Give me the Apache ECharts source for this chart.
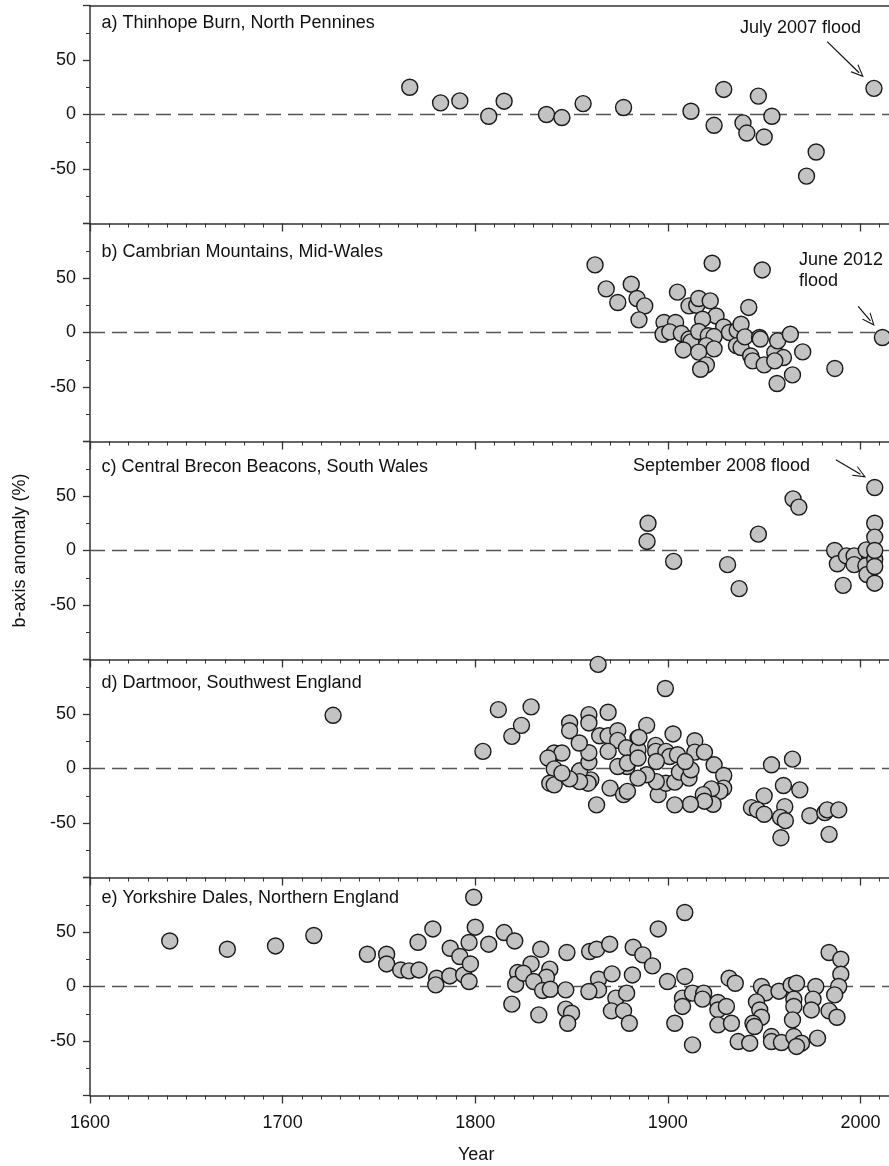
<!DOCTYPE html>
<html>
<head>
<meta charset="utf-8">
<title>b-axis anomaly</title>
<script src="https://cdn.jsdelivr.net/npm/echarts@6/dist/echarts.min.js"></script>
<style>
html, body { margin: 0; padding: 0; background: #fff; }
#chart { width: 889px; height: 1166px; }
</style>
</head>
<body>
<div id="chart"></div>
<script>
// [year, b-axis anomaly %]
var thinhope = [
	[1766,25],[1782,10.7],[1792,12.5],[1807,-1.6],[1815,12.2],[1837,0],[1845,-2.8],[1856,10],
	[1877,6.4],[1912,3],[1924,-9.9],[1929,23],[1939,-7.7],[1941,-17],[1947,16.9],[1950,-20.6],
	[1954,-1.6],[1972,-56.5],[1977,-34.4],[2007,24]
];
var cambrian = [
	[1862.2,62],[1868,40],[1874,27.5],[1881,44.3],[1884,31.2],[1888,24.4],[1885,11.6],[1905,37],
	[1923,63.6],[1949,57.4],[1942,23],[1911,24.4],[1915,25],[1916,31.2],[1922,29],[1925,15.2],
	[1918,12.2],[1929,5.1],[1898,9.2],[1904,9.2],[1897.5,-1.6],[1901,0.6],[1907,-0.9],[1911,-6],
	[1912,-8.6],[1908,-16],[1916,0.9],[1921,-3],[1924,-3.7],[1920,-12],[1924,-15],[1916,-18],
	[1920,-29.7],[1917,-33.7],[1932,0],[1936,2],[1938,7.6],[1935.6,-12],[1938,-13.8],[1940,-4],
	[1943,-21.5],[1944,-26],[1947.6,-4.6],[1948,-6],[1950,-29.7],[1955.5,-18.3],[1957,-7.7],
	[1960,-23],[1955.5,-26],[1963.6,-1.6],[1964.7,-38.9],[1970,-17.8],[1956.7,-46.8],[1986.7,-33],
	[2011.4,-4.6]
];
var brecon = [
	[1889.7,25],[1889.2,8.3],[1903,-10],[1931,-13],[1937,-35],[1947,15],[1965,47.4],[1968,39.8],
	[1986.6,0],[1988,-12.2],[1992.7,-4.9],[1996.7,-4.9],[1996.7,-13],[1991,-32],[2003,0.6],
	[2002.8,-14],[2003.4,-22],[2007.4,-8],[2007.4,57.8],[2007.4,25],[2007.4,12.3],[2007.4,0],
	[2007.4,-14.7],[2007.4,-30]
];
var dartmoor = [
	[1726.2,48.8],[1804,15.7],[1812,54],[1819,29.5],[1824,39.6],[1829,56.5],[1863.8,95.5],
	[1898.7,73.4],[1849,41.8],[1849,34.7],[1859,49.4],[1859,41.8],[1869,51.6],[1864.6,30],
	[1869,30],[1874,34.7],[1874,25.8],[1889,39.6],[1902.7,31.7],[1884.5,28],[1878.5,19],
	[1884.5,17.2],[1893.7,21.2],[1893.7,15.7],[1899,15.7],[1901,11],[1905,12.6],[1914,25.5],
	[1914,15],[1919,15],[1924,3.4],[1929,-6.4],[1929,-18],[1927,-21],[1922.6,-18.7],[1918.4,-24],
	[1923.5,-32.8],[1919,-30],[1911.7,-32.8],[1903.6,-33.4],[1895,-24],[1899,-13.5],[1903.6,-12.5],
	[1894,-12],[1906,-3.3],[1911,-8.8],[1912,-1.2],[1909,6.4],[1894,6.4],[1889,-5.8],[1884.5,-8.8],
	[1878.8,1.8],[1874,1.8],[1879,5],[1884.5,9.6],[1870,-18],[1877,-24],[1879,-21],[1863,-33.4],
	[1860,-10.4],[1858.6,-13.5],[1854.2,-2.1],[1854.2,-12],[1849,-9.5],[1859,5.9],[1859,14.5],
	[1854,23.4],[1841,14.2],[1845,14.2],[1837.8,9.6],[1841,-0.3],[1838.7,-13.5],[1841,-15],
	[1845,-4.2],[1869,15.7],[1885,28.5],[1953.8,3.4],[1964.7,8.6],[1960,-15.6],[1968.5,-19.6],
	[1950,-25.1],[1943.4,-35.9],[1946.5,-38],[1950,-42],[1960.7,-35],[1958.5,-44.8],[1961,-47.9],
	[1958.7,-63.5],[1973.7,-43.3],[1981.5,-40.5],[1982.7,-38],[1988.7,-38],[1983.7,-60.4]
];
var yorkshire = [
	[1641.4,41.8],[1671.3,34.2],[1696.3,37.2],[1716.2,46.8],[1744,29.6],[1754,29.6],[1754,20.7],
	[1761.3,15.2],[1765.6,14.3],[1770.8,15.2],[1770.3,40.6],[1778,52.8],[1780,7.6],[1779.5,1.5],
	[1787,35.1],[1786.8,9.7],[1792,27.5],[1794,10.6],[1796.8,40.4],[1797.5,20.7],[1796.8,4.6],
	[1799.2,81.9],[1800,54.4],[1807,38.8],[1815,49.5],[1820.5,41.8],[1822,12.8],[1821,2.1],
	[1819,-16.2],[1829,20.7],[1834,34.2],[1825,12.2],[1838.7,15.9],[1837,8.5],[1830.4,4.6],
	[1835,-3.7],[1839,-2.5],[1833,-26],[1847.6,31.2],[1847,-3.1],[1847,-20.8],[1850,-24.5],
	[1848,-33.7],[1859.4,32.1],[1863,34.2],[1869.8,38.8],[1864,6.7],[1864,-3.1],[1859,-4.6],
	[1871,11.6],[1873,-10.7],[1870.7,-22.4],[1877,-22.4],[1880,-33.7],[1878.6,-6.1],[1881.6,10.6],
	[1882,36],[1887,29],[1892,18.9],[1895,52.8],[1899.8,4.6],[1908.8,67.9],[1908.8,9.2],
	[1903.6,-33.7],[1907.6,-10.7],[1907.6,-18.3],[1912.8,-6.1],[1918.6,-6.1],[1918,-11.6],
	[1912.8,-53.6],[1926,-14.7],[1926,-21.5],[1930.4,-18.3],[1926,-35.2],[1933,-33.7],[1931.8,7.6],
	[1935,3],[1936.5,-50.5],[1942.5,-52],[1948.6,0],[1950.8,-5.8],[1946,-14.1],[1947.7,-21.5],
	[1948.6,-28.2],[1944.2,-33.7],[1945,-36.7],[1953.8,-45.9],[1953.8,-50.5],[1959,-51.4],
	[1957.7,-4.3],[1964,1.2],[1966.8,3],[1965.4,-11.6],[1965.4,-18.3],[1964.7,-30.6],[1965.4,-45.9],
	[1969.4,-52],[1966.8,-55],[1977.7,-47.4],[1976.8,0],[1975.4,-11.6],[1974.5,-21.5],[1983.7,31.2],
	[1989.8,25],[1989.8,11.3],[1988.7,0],[1986.6,-7.7],[1983.7,-22.4],[1987.8,-28.2]
];

var panelTitles = [
	'a) Thinhope Burn, North Pennines',
	'b) Cambrian Mountains, Mid-Wales',
	'c) Central Brecon Beacons, South Wales',
	'd) Dartmoor, Southwest England',
	'e) Yorkshire Dales, Northern England'
];
var panelData = [thinhope, cambrian, brecon, dartmoor, yorkshire];
var yTicks = [-100, -50, 0, 50, 100];
var zeroLine = [[1600, 0], [2020, 0]];
// flood arrows: [from, to] in [year, value]
var floodArrows = [
	[[1982.7, 66.9], [1999.3, 38.3]],
	[[1998.8, 23.9], [2005.2, 10.6]],
	[[1987.2, 83.2], [2000, 70]]
];

var FONT = '"Liberation Sans", Arial, sans-serif';
var AXIS_COLOR = '#333';
var panelTop = [5.5, 223.5, 441.5, 659.5, 877.5];
var panelHeight = 218;
var titleY = [24, 252.7, 468, 684.3, 899];

var chart = echarts.init(document.getElementById('chart'));

var grids = [], xAxes = [], yAxes = [], series = [], graphics = [];

for (var i = 0; i < panelData.length; i++) {
	// the axis runs on to 2020, past the right edge of the picture
	grids.push({left: 90, top: panelTop[i], width: 809, height: panelHeight, outerBoundsMode: 'none', containLabel: false});

	xAxes.push({
		type: 'value', gridIndex: i, min: 1600, max: 2020, interval: 100,
		axisLine: {onZero: false, lineStyle: {color: AXIS_COLOR, width: 1.5}},
		axisTick: {length: 8, lineStyle: {color: AXIS_COLOR, width: 1.3}},
		minorTick: {show: true, splitNumber: 10, length: 4, lineStyle: {color: AXIS_COLOR, width: 1}},
		splitLine: {show: false},
		axisLabel: {
			show: i === panelData.length - 1, fontSize: 18, margin: 19, color: '#111', fontFamily: FONT,
			formatter: function (v) { return v % 100 === 0 && v <= 2000 ? String(v) : ''; }
		}
	});

	yAxes.push({
		type: 'value', gridIndex: i, min: yTicks[0], max: yTicks[yTicks.length - 1], interval: 50,
		axisLine: {onZero: false, lineStyle: {color: AXIS_COLOR, width: 1.5}},
		axisTick: {length: 7, lineStyle: {color: AXIS_COLOR, width: 1.3}},
		minorTick: {show: true, splitNumber: 2, length: 4, lineStyle: {color: AXIS_COLOR, width: 1}},
		splitLine: {show: false},
		axisLabel: {
			fontSize: 18, margin: 14, color: '#111', fontFamily: FONT,
			formatter: function (v) { return (v === 100 || v === -100) ? '' : String(v); }
		}
	});

	var zero = {
		type: 'line', xAxisIndex: i, yAxisIndex: i, data: zeroLine, symbol: 'none', silent: true, z: 1,
		lineStyle: {color: '#555', width: 1.6, type: [15, 7]}
	};
	if (i < floodArrows.length) {
		zero.markLine = {
			silent: true, symbol: ['none', 'path://M0,14 L10,0 L20,14 L18,14 L10,3 L2,14 Z'], symbolSize: [11, 13],
			label: {show: false},
			lineStyle: {color: '#111', width: 1.2, type: 'solid'},
			data: [[{coord: floodArrows[i][0]}, {coord: floodArrows[i][1]}]]
		};
	}
	series.push(zero);

	series.push({
		type: 'scatter', xAxisIndex: i, yAxisIndex: i, data: panelData[i], clip: false, z: 3,
		symbol: 'circle', symbolSize: 16,
		itemStyle: {color: '#c3c3c3', borderColor: '#1a1a1a', borderWidth: 1.4, opacity: 1}
	});

	graphics.push({
		type: 'text', left: 101.5, top: titleY[i] - 10,
		style: {text: panelTitles[i], font: '18px ' + FONT, fill: '#111'}
	});
}

// top frame line of the first panel
xAxes.push({
	type: 'value', gridIndex: 0, position: 'top', min: 1600, max: 2020,
	axisLine: {onZero: false, lineStyle: {color: AXIS_COLOR, width: 1.5}},
	axisTick: {show: false}, axisLabel: {show: false}, splitLine: {show: false}
});

graphics.push(
	{type: 'text', left: 740, top: 19, style: {text: 'July 2007 flood', font: '18px ' + FONT, fill: '#111'}},
	{type: 'text', left: 799, top: 250, style: {text: 'June 2012\nflood', font: '18px ' + FONT, fill: '#111', lineHeight: 21}},
	{type: 'text', left: 633, top: 457, style: {text: 'September 2008 flood', font: '18px ' + FONT, fill: '#111'}},
	{type: 'text', left: 458, top: 1146, style: {text: 'Year', font: '18px ' + FONT, fill: '#111'}},
	{
		type: 'text', x: 20, y: 550.5, rotation: Math.PI / 2,
		style: {text: 'b-axis anomaly (%)', font: '18px ' + FONT, fill: '#111', align: 'center', verticalAlign: 'middle'}
	}
);

var option = {
	animation: false,
	textStyle: {fontFamily: FONT},
	grid: grids,
	xAxis: xAxes,
	yAxis: yAxes,
	series: series,
	graphic: graphics
};

chart.setOption(option);
</script>
</body>
</html>
